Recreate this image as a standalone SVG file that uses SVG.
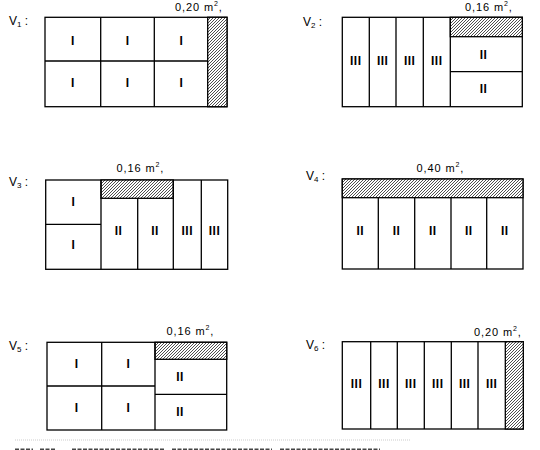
<svg xmlns="http://www.w3.org/2000/svg" width="540" height="450" viewBox="0 0 540 450">
<defs>
<pattern id="hatch" patternUnits="userSpaceOnUse" width="3" height="3">
<rect width="3" height="3" fill="#fff"/>
<path d="M-1,1 L1,-1 M0,3 L3,0 M2,4 L4,2" stroke="#222" stroke-width="0.8"/>
</pattern>
<style>
.cell{fill:#fff;stroke:#000;stroke-width:1.3}
.h{fill:url(#hatch);stroke:#000;stroke-width:1.3}
.ln{stroke:#000;stroke-width:1.3;fill:none}
.lab{font-family:"Liberation Sans",Arial,sans-serif;font-size:12px;font-weight:bold;text-anchor:middle;letter-spacing:0.5px}
.area{font-family:"Liberation Sans",Arial,sans-serif;font-size:11px;letter-spacing:0.9px}
.v{font-family:"Liberation Sans",Arial,sans-serif;font-size:12px}
</style>
</defs>
<rect width="540" height="450" fill="#fff"/>

<g id="v1">
<text class="v" x="9" y="25">V<tspan font-size="8" dy="2">1</tspan><tspan dy="-2"> :</tspan></text>
<text class="area" x="175" y="11">0,20 m<tspan font-size="7" dy="-5">2</tspan><tspan dy="5">,</tspan></text>
<rect class="cell" x="45" y="17.3" width="182" height="89.4"/>
<rect class="h" x="207.7" y="17.3" width="19.3" height="89.4"/>
<path class="ln" d="M45,61 H207.7 M100.7,17.3 V106.7 M154.3,17.3 V106.7"/>
<g class="lab">
<text x="73" y="45">I</text><text x="127.7" y="45">I</text><text x="181.5" y="45">I</text>
<text x="73" y="86.5">I</text><text x="127.7" y="86.5">I</text><text x="181.5" y="86.5">I</text>
</g>
</g>

<g id="v2">
<text class="v" x="303" y="26">V<tspan font-size="8" dy="2">2</tspan><tspan dy="-2"> :</tspan></text>
<text class="area" x="465" y="11">0,16 m<tspan font-size="7" dy="-5">2</tspan><tspan dy="5">,</tspan></text>
<rect class="cell" x="342.3" y="17.3" width="180" height="89.4"/>
<rect class="h" x="450.3" y="17.3" width="72" height="19.4"/>
<path class="ln" d="M369.3,17.3 V106.7 M396,17.3 V106.7 M423.3,17.3 V106.7 M450.3,17.3 V106.7 M450.3,71.7 H522.3"/>
<g class="lab">
<text x="355.8" y="64.5">III</text><text x="382.7" y="64.5">III</text><text x="409.7" y="64.5">III</text><text x="436.8" y="64.5">III</text>
<text x="483.5" y="58.5">II</text><text x="483.5" y="93">II</text>
</g>
</g>

<g id="v3">
<text class="v" x="9" y="186">V<tspan font-size="8" dy="2">3</tspan><tspan dy="-2"> :</tspan></text>
<text class="area" x="116.5" y="172">0,16 m<tspan font-size="7" dy="-5">2</tspan><tspan dy="5">,</tspan></text>
<rect class="cell" x="45.7" y="180" width="182" height="89.3"/>
<rect class="h" x="101" y="180" width="72.3" height="18.3"/>
<path class="ln" d="M45.7,224.3 H101 M101,180 V269.3 M137.7,198.3 V269.3 M173.3,180 V269.3 M201.3,180 V269.3"/>
<g class="lab">
<text x="73.3" y="205.7">I</text><text x="73.3" y="249">I</text>
<text x="118.5" y="235">II</text><text x="155" y="235">II</text>
<text x="187.3" y="234.5">III</text><text x="214.5" y="234.5">III</text>
</g>
</g>

<g id="v4">
<text class="v" x="306" y="180">V<tspan font-size="8" dy="2">4</tspan><tspan dy="-2"> :</tspan></text>
<text class="area" x="416.5" y="171.5">0,40 m<tspan font-size="7" dy="-5">2</tspan><tspan dy="5">,</tspan></text>
<rect class="cell" x="342.3" y="179" width="180.7" height="90"/>
<rect class="h" x="342.3" y="179" width="180.7" height="18.7"/>
<path class="ln" d="M378.3,197.7 V269 M414.7,197.7 V269 M451,197.7 V269 M486.7,197.7 V269"/>
<g class="lab">
<text x="360.3" y="234.5">II</text><text x="396.5" y="234.5">II</text><text x="432.8" y="234.5">II</text><text x="468.8" y="234.5">II</text><text x="504.8" y="234.5">II</text>
</g>
</g>

<g id="v5">
<text class="v" x="9" y="350">V<tspan font-size="8" dy="2">5</tspan><tspan dy="-2"> :</tspan></text>
<text class="area" x="166.5" y="335">0,16 m<tspan font-size="7" dy="-5">2</tspan><tspan dy="5">,</tspan></text>
<rect class="cell" x="47" y="342.3" width="179.7" height="87.7"/>
<rect class="h" x="155" y="342.3" width="71.7" height="17"/>
<path class="ln" d="M47,386 H155 M101.7,342.3 V430 M155,342.3 V430 M155,394.3 H226.7"/>
<g class="lab">
<text x="76.7" y="368">I</text><text x="128.3" y="368">I</text>
<text x="76.7" y="412">I</text><text x="128.3" y="412">I</text>
<text x="180" y="381">II</text><text x="180" y="415.5">II</text>
</g>
</g>

<g id="v6">
<text class="v" x="306" y="349">V<tspan font-size="8" dy="2">6</tspan><tspan dy="-2"> :</tspan></text>
<text class="area" x="474" y="336">0,20 m<tspan font-size="7" dy="-5">2</tspan><tspan dy="5">,</tspan></text>
<rect class="cell" x="342.3" y="341.7" width="181" height="87.3"/>
<rect class="h" x="505.3" y="341.7" width="18" height="87.3"/>
<path class="ln" d="M370.7,341.7 V429 M397.3,341.7 V429 M424.3,341.7 V429 M451.3,341.7 V429 M478,341.7 V429"/>
<g class="lab">
<text x="356.5" y="387.5">III</text><text x="384" y="387.5">III</text><text x="410.8" y="387.5">III</text><text x="437.8" y="387.5">III</text><text x="464.7" y="387.5">III</text><text x="491.7" y="387.5">III</text>
</g>
</g>

<g id="bottom-marks">
<path d="M15,440 H410" stroke="#ccc" stroke-width="1" stroke-dasharray="1 1"/>
<path d="M15,449.5 H33 M40,449.5 H55 M72,449.5 H165 M172,449.5 H272 M280,449.5 H380" stroke="#444" stroke-width="2" stroke-dasharray="4 1.5"/>
</g>
</svg>
